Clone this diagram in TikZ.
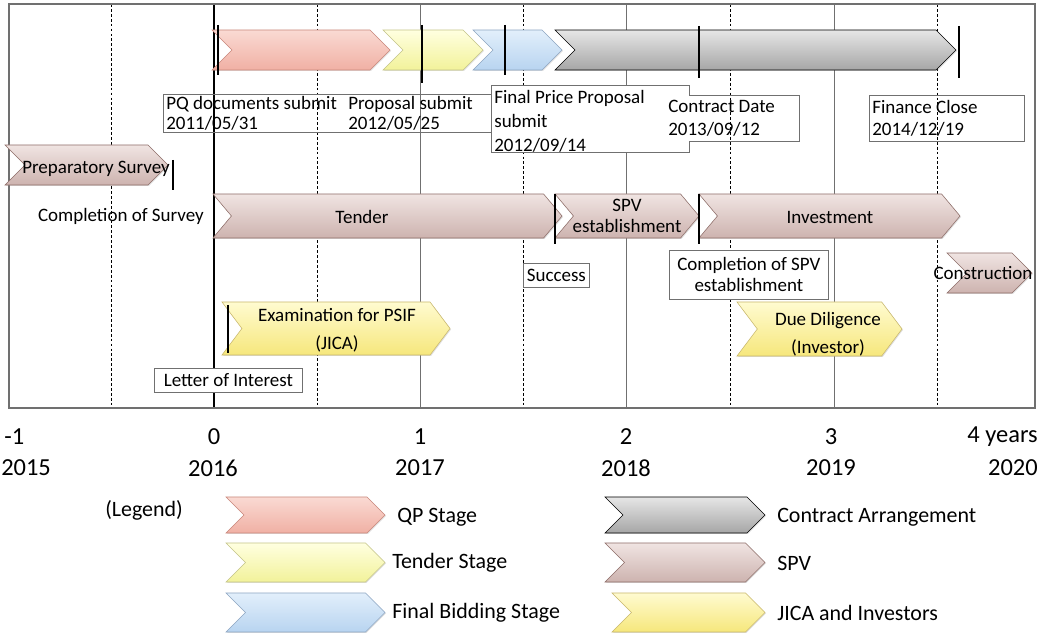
\documentclass[tikz,border=0pt]{standalone}
\usepackage{fontspec}
\setmainfont{Carlito}
\usepackage{tikz}
\usetikzlibrary{shapes.symbols, shadows, positioning}
\definecolor{gridgray}{HTML}{707070}
\tikzstyle{chev} = [signal, signal to=east, signal from=west, signal pointer angle=90, inner sep=0pt, minimum height=1cm, drop shadow={shadow xshift=0.7pt, shadow yshift=-0.7pt, opacity=0.25}]
\tikzstyle{qp} = [top color={rgb,255:red,250;green,218;blue,211}, bottom color={rgb,255:red,240;green,176;blue,164}, draw={rgb,255:red,201;green,136;blue,124}]
\tikzstyle{tnd} = [top color={rgb,255:red,255;green,255;blue,224}, bottom color={rgb,255:red,242;green,242;blue,154}, draw={rgb,255:red,196;green,196;blue,138}]
\tikzstyle{fin} = [top color={rgb,255:red,226;green,239;blue,251}, bottom color={rgb,255:red,184;green,212;blue,240}, draw={rgb,255:red,142;green,166;blue,194}]
\tikzstyle{ctr} = [top color={rgb,255:red,230;green,230;blue,230}, bottom color={rgb,255:red,166;green,166;blue,166}, draw=black]
\tikzstyle{spv} = [top color={rgb,255:red,240;green,228;blue,226}, bottom color={rgb,255:red,205;green,179;blue,175}, draw={rgb,255:red,142;green,110;blue,105}]
\tikzstyle{jica} = [top color={rgb,255:red,255;green,251;blue,208}, bottom color={rgb,255:red,246;green,231;blue,124}, draw={rgb,255:red,201;green,184;blue,110}]
\tikzstyle{tbox} = [rectangle, draw=gridgray, line width=0.5pt, inner xsep=0.075cm, inner ysep=0pt, font=\fontsize{13.5}{16}\selectfont]
\tikzstyle{lbl} = [inner sep=0pt, font=\fontsize{13.5}{16}\selectfont]
\tikzstyle{axis} = [inner sep=0pt, font=\fontsize{17.4}{20}\selectfont]
\tikzstyle{leg} = [inner sep=0pt, anchor=west, font=\fontsize{15.6}{18}\selectfont]
\tikzstyle{tick} = [black, line width=1pt]
\tikzstyle{solidgrid} = [gridgray, line width=0.7pt]
\tikzstyle{dashgrid} = [black, line width=0.5pt, dash pattern=on 2pt off 1.5pt]

\begin{document}
\begin{tikzpicture}[x=0.025cm, y=-0.025cm]
        \useasboundingbox (0,0) rectangle (1040,636);

        % Grid
        \draw [dashgrid] (111,4) -- (111,408);
        \draw [dashgrid] (317,4) -- (317,408);
        \draw [dashgrid] (523,4) -- (523,408);
        \draw [dashgrid] (730,4) -- (730,408);
        \draw [dashgrid] (937,4) -- (937,408);
        \draw [solidgrid] (420,4) -- (420,408);
        \draw [solidgrid] (626,4) -- (626,408);
        \draw [solidgrid] (834,4) -- (834,408);
        \draw [black, line width=0.9pt] (214,4) -- (214,408);
        \draw [gridgray, line width=0.8pt] (9,4) rectangle (1035,408);

        % Contract stages
        \node (qpbar) [chev, qp, minimum width=4.45cm] at (301,50) {};
        \node (tdbar) [chev, tnd, minimum width=2.5cm] at (433,50) {};
        \node (fbbar) [chev, fin, minimum width=2.225cm] at (517.5,50) {};
        \node (cabar) [chev, ctr, minimum width=10.025cm] at (755.5,50) {};
        \draw [tick] (218,25) -- (218,75);
        \draw [tick] (422,25) -- (422,83);
        \draw [tick] (505,25) -- (505,75);
        \draw [tick] (699,26) -- (699,78);
        \draw [tick] (959,26) -- (959,78);

        % Milestones
        \node (pqbox) [tbox, anchor=north west, minimum width=8.25cm, minimum height=0.95cm, text width=8.1cm, align=flush left, font=\fontsize{13.5}{14}\selectfont] at (163,94) {PQ documents submit\\2011/05/31};
        \node (proptxt) [lbl, anchor=west, align=flush left, font=\fontsize{13.5}{14}\selectfont] at (348,113) {Proposal submit\\2012/05/25};
        \node (fpbox) [tbox, draw=none, fill=white, anchor=north west, minimum width=4.95cm, minimum height=1.675cm, text width=4.8cm, align=flush left, font=\fontsize{13.5}{17}\selectfont] at (491,85) {\rule{0pt}{13pt}Final Price Proposal\\submit\\2012/09/14};
        \node (cdbox) [tbox, draw=none, anchor=north west, minimum width=3.35cm, minimum height=1.15cm, text width=3.2cm, align=flush left] at (665,95) {Contract Date\\2013/09/12};
        \draw [gridgray, line width=0.5pt] (fpbox.east |- cdbox.north) -- (fpbox.north east) -- (fpbox.north west) -- (fpbox.south west) -- (fpbox.south east) -- (fpbox.east |- cdbox.south) -- (cdbox.south east) -- (cdbox.north east) -- cycle;
        \node (fcbox) [tbox, anchor=north west, minimum width=3.875cm, minimum height=1.15cm, text width=3.725cm, align=flush left] at (869,95) {Finance Close\\2014/12/19};

        % SPV
        \node (prep) [chev, spv, minimum width=4.075cm] at (86.5,165) {};
        \node (preptxt) [lbl] at (96,169) {Preparatory Survey};
        \draw [tick] (173,160) -- (173,190);
        \node (survtxt) [lbl, anchor=east] at (204,216) {Completion of Survey};
        \node (tender) [chev, spv, minimum width=8.725cm, minimum height=1.1cm, signal pointer angle=100] at (387.5,216) {};
        \node (tendertxt) [lbl] at (362,217) {Tender};
        \node (spvest) [chev, spv, minimum width=3.6cm, minimum height=1.1cm, signal pointer angle=100] at (627,216) {};
        \node (spvtxt) [lbl, align=flush center, font=\fontsize{13.5}{15.5}\selectfont] at (627,216) {SPV\\establishment};
        \node (invest) [chev, spv, minimum width=6.525cm, minimum height=1.1cm, signal pointer angle=100] at (829.5,216) {};
        \node (investtxt) [lbl] at (830,217) {Investment};
        \draw [tick] (555,194) -- (555,244);
        \draw [tick] (699,194) -- (699,244);
        \node (succ) [tbox, fill=white, anchor=north west, minimum width=1.65cm, minimum height=0.6cm] at (523,263) {Success};
        \node (compspv) [tbox, fill=white, anchor=north west, minimum width=3.975cm, minimum height=1.225cm, align=flush center, font=\fontsize{13.5}{15}\selectfont] at (669,250) {Completion of SPV\\establishment};
        \node (constr) [chev, spv, minimum width=2.125cm] at (989.5,273) {};
        \node (constrtxt) [lbl] at (983,273) {Construction};

        % JICA and investors
        \node (exam) [chev, jica, minimum width=5.7cm, minimum height=1.325cm, signal pointer angle=106] at (336,328.5) {};
        \node (examtxt) [lbl, align=flush center, font=\fontsize{13.5}{20}\selectfont] at (337,330) {Examination for PSIF\\(JICA)};
        \draw [tick] (228,305) -- (228,353);
        \node (letter) [tbox, fill=white, anchor=north west, minimum width=3.7cm, minimum height=0.6cm] at (154,368) {Letter of Interest};
        \node (duedil) [chev, jica, minimum width=4.125cm, minimum height=1.35cm, signal pointer angle=106] at (819.5,329) {};
        \node (duetxt) [lbl, align=flush center, font=\fontsize{13.5}{20}\selectfont] at (828,334) {Due Diligence\\(Investor)};

        % Axis
        \node (yrm1) [axis, anchor=west] at (4,437) {-1};
        \node (yr0) [axis] at (214,437) {0};
        \node (yr1) [axis] at (420,437) {1};
        \node (yr2) [axis] at (626,437) {2};
        \node (yr3) [axis] at (831,437) {3};
        \node (yr4) [axis, anchor=east] at (1038,437) {4 years};
        \node (cal15) [axis, anchor=west] at (1,468) {2015};
        \node (cal16) [axis] at (213,468) {2016};
        \node (cal17) [axis] at (420,468) {2017};
        \node (cal18) [axis] at (626,468) {2018};
        \node (cal19) [axis] at (831,468) {2019};
        \node (cal20) [axis, anchor=east] at (1038,468) {2020};

        % Legend
        \node (legtitle) [leg] at (105,510) {(Legend)};
        \node (legqp) [chev, qp, minimum width=3.975cm, minimum height=0.9cm] at (305.5,515) {};
        \node (legtd) [chev, tnd, minimum width=3.975cm, minimum height=0.975cm] at (305.5,562.5) {};
        \node (legfb) [chev, fin, minimum width=3.975cm, minimum height=0.975cm] at (305.5,612.5) {};
        \node (legqptxt) [leg] at (397,517) {QP Stage};
        \node (legtdtxt) [leg] at (392,563) {Tender Stage};
        \node (legfbtxt) [leg] at (392,613) {Final Bidding Stage};
        \node (legca) [chev, ctr, minimum width=4cm, minimum height=0.9cm] at (685,515) {};
        \node (legspv) [chev, spv, minimum width=4cm, minimum height=0.975cm] at (685,562.5) {};
        \node (legjica) [chev, jica, minimum width=3.825cm, minimum height=0.975cm] at (688.5,612.5) {};
        \node (legcatxt) [leg] at (777,517) {Contract Arrangement};
        \node (legspvtxt) [leg] at (777,563) {SPV};
        \node (legjicatxt) [leg] at (777,613) {JICA and Investors};

    \end{tikzpicture}
\end{document}
